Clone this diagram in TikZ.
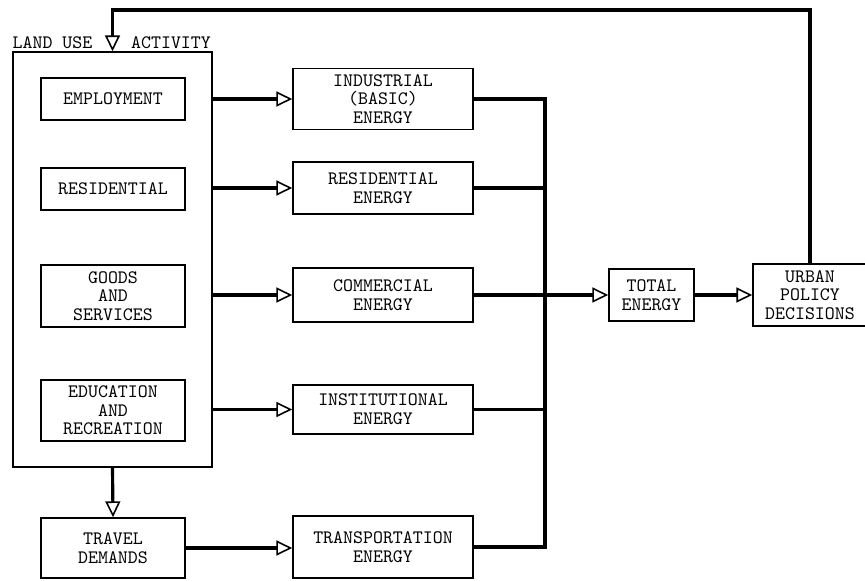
\documentclass[tikz,border=0pt]{standalone}
\usepackage{tikz}
\usetikzlibrary{arrows.meta, positioning}

\begin{document}
\begin{tikzpicture}[
  x=0.02cm, y=-0.02cm,
  box/.style    = {draw, line width=0.9pt, inner sep=0pt, align=center,
                   font=\ttfamily\fontsize{10.8}{10.6}\selectfont},
  inbox/.style  = {box, minimum width=2.88cm},
  ebox/.style   = {box, minimum width=3.6cm},
  lbl/.style    = {font=\ttfamily\fontsize{10.8}{10.6}\selectfont},
  wire/.style   = {line width=1.8pt},
  arr/.style    = {wire, -{Triangle[open, length=9pt, width=8.5pt, line width=0.9pt]}},
]
\useasboundingbox (0,0) rectangle (865,581);
\node[box, minimum width=3.98cm, minimum height=8.3cm] (land) at (112.5,259.5) {};
\node[lbl] (landuse)  at (52.5,43) {LAND USE};
\node[lbl] (activity) at (171,43)  {ACTIVITY};

\node[inbox, minimum height=0.84cm] (employ) at (113,99)    {EMPLOYMENT};
\node[inbox, minimum height=0.84cm] (resid)  at (113,189)   {RESIDENTIAL};
\node[inbox, minimum height=1.24cm] (goods)  at (113,296)   {GOODS\\AND\\SERVICES};
\node[inbox, minimum height=1.22cm] (edu)    at (113,410.5) {EDUCATION\\AND\\RECREATION};
\node[inbox, minimum height=1.2cm]  (travel) at (113,548)   {TRAVEL\\DEMANDS};

\node[ebox, minimum height=1.22cm] (indus) at (383,99)    {INDUSTRIAL\\(BASIC)\\ENERGY};
\node[ebox, minimum height=1.04cm] (resen) at (383,188)   {RESIDENTIAL\\ENERGY};
\node[ebox, minimum height=1.08cm] (comm)  at (383,295)   {COMMERCIAL\\ENERGY};
\node[ebox, minimum height=0.98cm] (inst)  at (383,409.5) {INSTITUTIONAL\\ENERGY};
\node[ebox, minimum height=1.24cm] (trans) at (383,547)   {TRANSPORTATION\\ENERGY};

\node[box, minimum width=1.7cm, minimum height=1.04cm]  (total) at (651.5,295) {TOTAL\\ENERGY};
\node[box, minimum width=2.28cm, minimum height=1.24cm] (urban) at (810,295)   {URBAN\\POLICY\\DECISIONS};

\coordinate (bus)  at (545,295);
\coordinate (loop) at (112.5,10);

\draw[arr] (land.east |- indus) -- (indus.west);
\draw[arr] (land.east |- resen) -- (resen.west);
\draw[arr] (land.east |- comm)  -- (comm.west);
\draw[arr] (land.east |- inst)  -- (inst.west);
\draw[arr] (land.south) -- (travel.north);
\draw[arr] (travel.east) -- (trans.west |- travel.east);

\draw[wire] (indus.east) -- (indus.east -| bus) -- (trans.east -| bus) -- (trans.east);
\draw[wire] (resen.east) -- (resen.east -| bus);
\draw[wire] (inst.east)  -- (inst.east -| bus);
\draw[arr]  (comm.east)  -- (total.west);
\draw[arr]  (total.east) -- (urban.west);
\draw[arr]  (urban.north) |- (loop) -- (land.north);
\end{tikzpicture}
\end{document}
